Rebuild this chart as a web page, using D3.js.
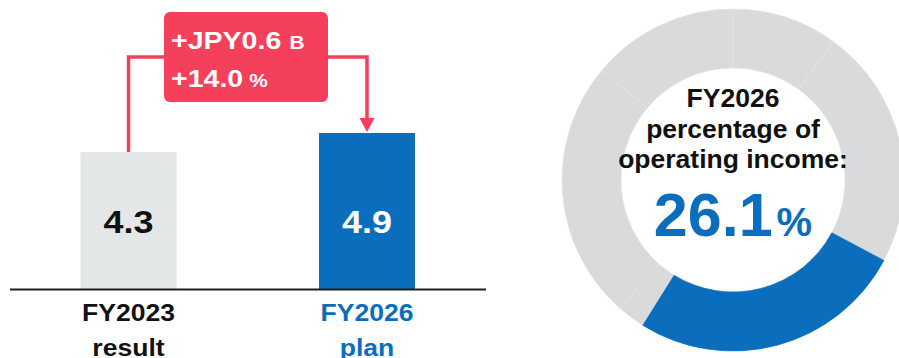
<!DOCTYPE html>
<html>
<head>
<meta charset="utf-8">
<script src="https://cdn.jsdelivr.net/npm/d3@7"></script>
<style>
  html, body { margin: 0; padding: 0; background: #fff; }
  svg { display: block; }
  text { font-family: "Liberation Sans", Arial, sans-serif; font-weight: bold; }
</style>
</head>
<body>
<svg id="chart" width="899" height="358"></svg>
<script>
// Operating income contribution (JPY billion)
const periods = ["FY2023", "FY2026"];
const periodSub = ["result", "plan"];
const incomeValues = [4.3, 4.9];
const changeLabel = ["+JPY0.6", "B"];
const changePctLabel = ["+14.0", "%"];

// Share of total operating income, FY2026 (segment shares, %)
const shareSegments = ["s1", "s2", "focus", "s3", "s4", "s5"];
const shareValues = [10.0, 22.8, 26.1, 2.6, 24.6, 13.9];
const focusShare = 26.1;
const shareTitle = ["FY2026", "percentage of", "operating income:"];

const RED = "#f5405b";
const BLUE = "#0a6ebd";
const BAR_GRAY = "#e3e7e7";
const RING_GRAY = "#d8dadb";

const svg = d3.select("#chart");

// text widened horizontally, as used throughout the bar panel
function wideText(g, x, y, opts) {
  return g.append("text")
    .attr("transform", `translate(${x},${y}) scale(${opts.sx || 1.13},1)`)
    .attr("text-anchor", opts.anchor || "middle")
    .attr("font-size", opts.size)
    .attr("fill", opts.fill);
}

// ---- Bar panel ----
const base = 289;
const x = d3.scalePoint().domain(periods).range([128.5, 367]);
const y = d3.scaleLinear().domain([0, 4.9]).range([base, 133]);
const barW = 96;

const bars = svg.append("g");
bars.selectAll("rect.bar")
  .data(incomeValues)
  .join("rect")
  .attr("class", "bar")
  .attr("x", (d, i) => x(periods[i]) - barW / 2)
  .attr("y", d => y(d))
  .attr("width", barW)
  .attr("height", d => base - y(d))
  .attr("fill", (d, i) => i === 0 ? BAR_GRAY : BLUE);

// baseline
bars.append("line")
  .attr("x1", 10).attr("x2", 486)
  .attr("y1", base + 0.5).attr("y2", base + 0.5)
  .attr("stroke", "#1e1e1e").attr("stroke-width", 2);

// value labels inside bars
incomeValues.forEach((v, i) => {
  wideText(bars, x(periods[i]), 233, { size: 31, sx: 1.16, fill: i === 0 ? "#111" : "#fff" })
    .text(d3.format(".1f")(v));
});

// category labels
periods.forEach((p, i) => {
  const col = i === 0 ? "#111" : BLUE;
  wideText(bars, x(p), 321, { size: 23.5, fill: col }).text(p);
  wideText(bars, x(p), 355.5, { size: 23.5, fill: col }).text(periodSub[i]);
});

// change connector: up from first bar, across, down with arrow into second bar
const connY = 57;
const x0 = x(periods[0]), x1 = x(periods[1]);
const tipY = y(incomeValues[1]) - 1;
bars.append("path")
  .attr("d", `M${x0},${y(incomeValues[0])} V${connY} H${x1} V${tipY - 12}`)
  .attr("fill", "none").attr("stroke", RED).attr("stroke-width", 3.5)
  .attr("stroke-linejoin", "miter");
bars.append("path")
  .attr("d", `M${x1 - 7.5},${tipY - 14} L${x1 + 7.5},${tipY - 14} L${x1},${tipY} Z`)
  .attr("fill", RED);

// change callout box
bars.append("rect")
  .attr("x", 164).attr("y", 12).attr("width", 164).attr("height", 90)
  .attr("rx", 6).attr("fill", RED);
const l1 = wideText(bars, 171, 49, { size: 24, sx: 1.19, fill: "#fff", anchor: "start" });
l1.append("tspan").text(changeLabel[0]);
l1.append("tspan").attr("font-size", 17.5).attr("dx", 7).text(changeLabel[1]);
const l2 = wideText(bars, 171, 87, { size: 24, sx: 1.19, fill: "#fff", anchor: "start" });
l2.append("tspan").text(changePctLabel[0]);
l2.append("tspan").attr("font-size", 17.5).attr("dx", 5).text(changePctLabel[1]);

// ---- Share donut ----
const cx = 733, cy = 180;
const pie = d3.pie().sort(null).value(d => d).startAngle(0).endAngle(2 * Math.PI);
const arc = d3.arc().innerRadius(112).outerRadius(171);
const ring = svg.append("g").attr("transform", `translate(${cx},${cy})`);
ring.selectAll("path")
  .data(pie(shareValues))
  .join("path")
  .attr("d", arc)
  .attr("fill", (d, i) => shareSegments[i] === "focus" ? BLUE : RING_GRAY)
  .attr("stroke", (d, i) => shareSegments[i] === "focus" ? BLUE : "#e2e4e5")
  .attr("stroke-width", 0.7);

// centre label
ring.append("text").attr("text-anchor", "middle").attr("y", 107 - cy)
  .attr("font-size", 26.5).attr("fill", "#111").text(shareTitle[0]);
ring.append("text").attr("text-anchor", "middle").attr("y", 138 - cy)
  .attr("font-size", 26.5).attr("fill", "#111").text(shareTitle[1]);
ring.append("text").attr("text-anchor", "middle").attr("y", 168 - cy)
  .attr("font-size", 26.5).attr("fill", "#111").text(shareTitle[2]);
const big = ring.append("text").attr("text-anchor", "middle").attr("y", 236 - cy)
  .attr("fill", BLUE);
big.append("tspan").attr("font-size", 61).text(d3.format(".1f")(focusShare));
big.append("tspan").attr("font-size", 40).attr("dx", 4).text("%");
</script>
</body>
</html>
